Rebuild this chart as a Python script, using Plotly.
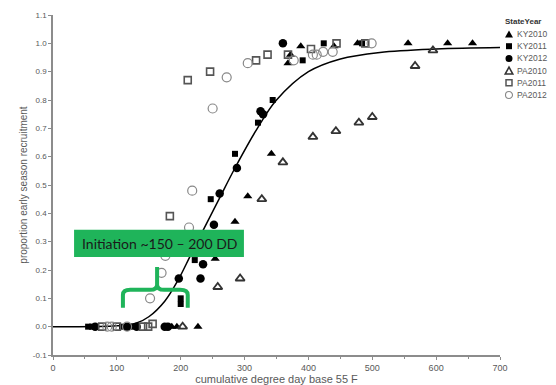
import plotly.graph_objects as go

# ---- data ----
ky2010_x = [186, 194, 227, 254, 285, 305, 342, 368, 372, 388, 440, 477, 556, 618, 657]
ky2010_y = [0, 0, 0, 0.24, 0.37, 0.46, 0.61, 0.93, 0.96, 0.99, 0.99, 1.0, 1.0, 1.0, 1.0]

ky2011_x = [55, 61, 108, 124, 200, 200, 222, 247, 285, 321, 344, 391, 424, 484]
ky2011_y = [0, 0, 0, 0, 0.08, 0.10, 0.235, 0.45, 0.61, 0.72, 0.80, 0.94, 1.0, 1.0]

ky2012_x = [66, 116, 131, 175, 180, 197, 231, 235, 252, 261, 288, 325, 329, 360]
ky2012_y = [0, 0, 0, 0, 0, 0.17, 0.17, 0.22, 0.36, 0.47, 0.56, 0.76, 0.75, 1.0]

pa2010_x = [203, 258, 293, 327, 360, 407, 443, 479, 500, 567, 595]
pa2010_y = [0, 0.14, 0.17, 0.45, 0.58, 0.67, 0.69, 0.72, 0.74, 0.92, 0.975]

pa2011_x = [77, 100, 141, 149, 156, 183, 211, 246, 318, 336, 368, 404, 444, 489]
pa2011_y = [0, 0, 0, 0, 0.01, 0.39, 0.87, 0.90, 0.94, 0.96, 0.96, 0.98, 1.0, 1.0]

pa2012_x = [85, 92, 116, 152, 170, 176, 213, 218, 250, 272, 305, 377, 407, 413, 423, 438, 499]
pa2012_y = [0, 0, 0, 0.10, 0.19, 0.25, 0.35, 0.48, 0.77, 0.88, 0.93, 0.94, 0.96, 0.96, 0.97, 0.97, 1.0]

fit_x = [0, 100, 130, 150, 175, 196, 215, 235, 260, 285, 320, 350, 400, 450, 512, 600, 700]
fit_y = [0, 0.003, 0.012, 0.035, 0.09, 0.165, 0.25, 0.34, 0.45, 0.56, 0.70, 0.80, 0.90, 0.945, 0.968, 0.98, 0.985]

x_ticks = [0, 100, 200, 300, 400, 500, 600, 700]
y_ticks = [-0.1, 0.0, 0.1, 0.2, 0.3, 0.4, 0.5, 0.6, 0.7, 0.8, 0.9, 1.0, 1.1]

series_names = ["KY2010", "KY2011", "KY2012", "PA2010", "PA2011", "PA2012"]
legend_title = "StateYear"
label_text = "Initiation ~150 \u2013 200 DD"

GREEN = "#1fb45a"
AXIS = "#8c8c8c"
TXT = "#595959"

# the page body adds an 8px offset; the figure is sized so the plot lands where the reference has it
OFF = 8
W, H = 548, 377
ML, MR, MT, MB = 45, 56, 7, 30
PW, PH = W - ML - MR, H - MT - MB
XR, YR = (0, 700), (-0.1, 1.1)


def pu(px):
    return (px - OFF - ML) / PW


def pv(py):
    return (H - MB - (py - OFF)) / PH


fig = go.Figure()

fig.add_trace(go.Scatter(x=fit_x, y=fit_y, mode="lines", line=dict(color="black", width=1.5, shape="spline"),
                         showlegend=False, hoverinfo="skip"))

markers = [
    dict(symbol="triangle-up", size=8, color="black", line=dict(width=0)),
    dict(symbol="square", size=6, color="black", line=dict(width=0)),
    dict(symbol="circle", size=8.5, color="black", line=dict(width=0)),
    dict(symbol="triangle-up-open", size=8, color="#333333", line=dict(width=1.8)),
    dict(symbol="square-open", size=7, color="#555555", line=dict(width=1.6)),
    dict(symbol="circle-open", size=9, color="#888888", line=dict(width=1.2)),
]
xs_all = [ky2010_x, ky2011_x, ky2012_x, pa2010_x, pa2011_x, pa2012_x]
ys_all = [ky2010_y, ky2011_y, ky2012_y, pa2010_y, pa2011_y, pa2012_y]
for name, xs, ys, mk in zip(series_names, xs_all, ys_all, markers):
    fig.add_trace(go.Scatter(x=xs, y=ys, mode="markers", name=name, marker=mk, showlegend=False))

# ---- custom compact legend (symbols drawn as paper-space shapes) ----
lx_mark, lx_text = 509, 515
ly_title, ly0, ldy = 21, 34, 12.2
fig.add_annotation(x=pu(503), y=pv(ly_title), xref="paper", yref="paper", text="<b>%s</b>" % legend_title,
                   showarrow=False, xanchor="left", yanchor="middle",
                   font=dict(size=8, color="#333333"))


def legend_symbol(kind, cx, cy, s, filled, color, lw):
    if kind == "tri":
        h = s * 0.9
        path = "M %f,%f L %f,%f L %f,%f Z" % (pu(cx), pv(cy - h / 2), pu(cx + s / 2), pv(cy + h / 2),
                                             pu(cx - s / 2), pv(cy + h / 2))
        fig.add_shape(type="path", xref="paper", yref="paper", path=path,
                      fillcolor=color if filled else "white", line=dict(color=color, width=0 if filled else lw))
    else:
        typ = "rect" if kind == "sq" else "circle"
        fig.add_shape(type=typ, xref="paper", yref="paper",
                      x0=pu(cx - s / 2), x1=pu(cx + s / 2), y0=pv(cy + s / 2), y1=pv(cy - s / 2),
                      fillcolor=color if filled else "white", line=dict(color=color, width=0 if filled else lw))


legend_styles = [("tri", 8, True, "black", 0), ("sq", 6, True, "black", 0), ("circle", 7, True, "black", 0),
                 ("tri", 7.5, False, "#333333", 1.6), ("sq", 6, False, "#555555", 1.5),
                 ("circle", 7, False, "#888888", 1.1)]
for i, (name, st) in enumerate(zip(series_names, legend_styles)):
    cy = ly0 + i * ldy
    legend_symbol(st[0], lx_mark, cy, st[1], st[2], st[3], st[4])
    fig.add_annotation(x=pu(lx_text), y=pv(cy), xref="paper", yref="paper", text=name, showarrow=False,
                       xanchor="left", yanchor="middle", font=dict(size=8.5, color=TXT))

# green label box
fig.add_shape(type="rect", xref="x", yref="y", x0=33, x1=299, y0=0.246, y1=0.342,
              fillcolor=GREEN, line=dict(width=0), layer="above")
fig.add_annotation(x=166, y=0.294, xref="x", yref="y", text=label_text, showarrow=False,
                   font=dict(family="Lato, Open Sans, sans-serif", size=14, color="#1a1a1a"))

# green curly brace
brace = ("M 109.5,0.067 L 109.5,0.112 Q 109.5,0.130 121,0.130 L 152,0.130 Q 163,0.130 163,0.148 L 163,0.211 "
         "M 163,0.148 Q 163,0.130 174,0.130 L 199,0.130 Q 211,0.130 211,0.112 L 211,0.067")
fig.add_shape(type="path", xref="x", yref="y", path=brace, line=dict(color=GREEN, width=4), layer="above")

fig.update_layout(
    width=W, height=H,
    margin=dict(l=ML, r=MR, t=MT, b=MB),
    paper_bgcolor="white", plot_bgcolor="white",
    font=dict(family="Liberation Sans, Arial, sans-serif", size=9, color=TXT),
    showlegend=False,
)
fig.update_xaxes(range=list(XR), tickvals=x_ticks, ticktext=[str(v) for v in x_ticks],
                 showgrid=False, zeroline=False, showline=True, linecolor=AXIS, linewidth=1.5,
                 ticks="outside", ticklen=3, tickcolor=AXIS, tickfont=dict(size=9, color=TXT),
                 minor=dict(dtick=50, ticks="outside", ticklen=2, tickcolor=AXIS),
                 automargin=False,
                 title=dict(text="cumulative degree day base 55 F", font=dict(size=11, color=TXT),
                            standoff=2))
fig.update_yaxes(range=list(YR), tickvals=y_ticks, ticktext=["%.1f" % v for v in y_ticks],
                 showgrid=False, zeroline=False, showline=True, linecolor=AXIS, linewidth=1.5,
                 ticks="outside", ticklen=3, tickcolor=AXIS, tickfont=dict(size=8, color=TXT),
                 automargin=False,
                 title=dict(text="proportion early season recruitment", font=dict(size=10, color=TXT),
                            standoff=3))

fig.write_html("out.html")
